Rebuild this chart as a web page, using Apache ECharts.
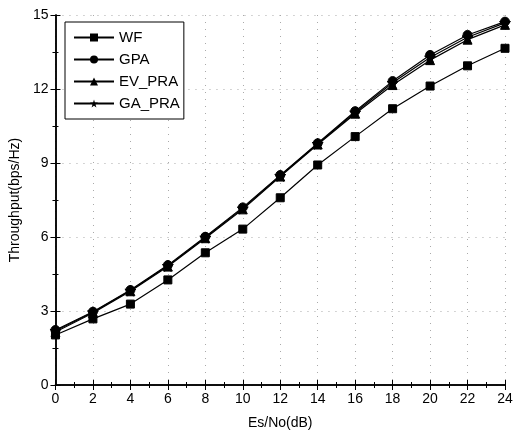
<!DOCTYPE html>
<html><head><meta charset="utf-8">
<script src="https://cdn.jsdelivr.net/npm/echarts@6/dist/echarts.min.js"></script>
<style>html,body{margin:0;padding:0;background:#fff}#c{width:522px;height:437px}</style>
</head><body><div id="c"></div>
<script>
var xValues = [0,2,4,6,8,10,12,14,16,18,20,22,24];
var seriesNames = ['WF','GPA','EV_PRA','GA_PRA'];
var wf    = [2.03,2.68,3.28,4.26,5.36,6.32,7.59,8.92,10.07,11.20,12.12,12.94,13.65];
var gpa   = [2.23,2.97,3.85,4.86,6.01,7.20,8.51,9.80,11.10,12.32,13.38,14.19,14.73];
var evPra = [2.15,2.92,3.80,4.80,5.95,7.12,8.45,9.75,11.00,12.16,13.17,14.00,14.60];
var gaPra = [2.20,2.95,3.83,4.83,5.98,7.16,8.48,9.78,11.05,12.25,13.28,14.10,14.68];

var starPath = 'path://M50,0 L61,35 L98,35 L68,57 L79,91 L50,70 L21,91 L32,57 L2,35 L39,35 Z';
var symbols = ['rect','circle','triangle',starPath];
var sizes = [8,9,9,11];
var allData = [wf,gpa,evPra,gaPra];
var font = 'Liberation Sans, Arial, sans-serif';

function pairs(v){ return xValues.map(function(x,i){return [x,v[i]];}); }

var chart = echarts.init(document.getElementById('c'));
var axisLine = {show:true, lineStyle:{color:'#000', width:1.5}};
var splitLine = {show:true, lineStyle:{color:'#aaa', type:[1,6], width:1}};
chart.setOption({
  animation:false,
  backgroundColor:'#fff',
  grid:{left:55, right:17, top:15, bottom:52},
  legend:{
    data:seriesNames, orient:'vertical', left:65, top:22,
    itemWidth:40, itemHeight:10, itemGap:7,
    padding:[8,4,8,8],
    borderColor:'#000', borderWidth:1, backgroundColor:'#fff',
    textStyle:{fontFamily:font, fontSize:15, color:'#000'}
  },
  xAxis:[{
    type:'value', min:0, max:24, interval:2,
    name:'Es/No(dB)', nameLocation:'middle', nameGap:31,
    nameTextStyle:{fontFamily:font, fontSize:14, color:'#000'},
    axisLine:axisLine,
    axisTick:{inside:true, length:5, lineStyle:{color:'#000'}},
    minorTick:{show:true, splitNumber:2, length:3, lineStyle:{color:'#000'}},
    axisLabel:{fontFamily:font, fontSize:14, color:'#000', margin:7},
    splitLine:splitLine
  },{
    type:'value', min:0, max:24, interval:2, position:'top',
    axisLine:axisLine,
    axisTick:{inside:true, length:5, lineStyle:{color:'#000'}},
    minorTick:{show:true, splitNumber:2, length:3, lineStyle:{color:'#000'}},
    axisLabel:{show:false}, splitLine:{show:false}
  }],
  yAxis:[{
    type:'value', min:0, max:15, interval:3,
    name:'Throughput(bps/Hz)', nameLocation:'middle', nameGap:30,
    nameTextStyle:{fontFamily:font, fontSize:14, color:'#000'},
    axisLine:axisLine,
    axisTick:{inside:true, length:5, lineStyle:{color:'#000'}},
    minorTick:{show:true, splitNumber:2, length:3, lineStyle:{color:'#000'}},
    axisLabel:{fontFamily:font, fontSize:14, color:'#000', margin:7},
    splitLine:splitLine
  },{
    type:'value', min:0, max:15, interval:3, position:'right',
    axisLine:axisLine,
    axisTick:{inside:true, length:5, lineStyle:{color:'#000'}},
    minorTick:{show:true, splitNumber:2, length:3, lineStyle:{color:'#000'}},
    axisLabel:{show:false}, splitLine:{show:false}
  }],
  series: seriesNames.map(function(n,i){
    return {
      name:n, type:'line', xAxisIndex:0, yAxisIndex:0,
      data:pairs(allData[i]),
      symbol:symbols[i], symbolSize:sizes[i], showAllSymbol:true,
      lineStyle:{color:'#000', width:1.2},
      itemStyle:{color:'#000', borderColor:'#000'},
      z: 10-i
    };
  })
});
</script></body></html>
